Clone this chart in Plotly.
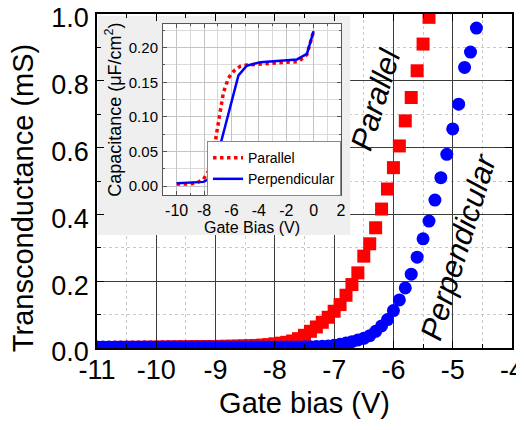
import plotly.graph_objects as go

# ---------------- main chart data ----------------
par_bias = [-11.0, -10.9, -10.8, -10.7, -10.6, -10.5, -10.4, -10.3, -10.2, -10.1,
            -10.0, -9.9, -9.8, -9.7, -9.6, -9.5, -9.4, -9.3, -9.2, -9.1,
            -9.0, -8.9, -8.8, -8.7, -8.6, -8.5, -8.4, -8.3, -8.2, -8.1,
            -8.0, -7.9, -7.8, -7.7, -7.6, -7.5, -7.4, -7.3, -7.2, -7.1,
            -7.0, -6.9, -6.8, -6.7, -6.6, -6.5, -6.4, -6.3, -6.2, -6.1,
            -6.0, -5.9, -5.8, -5.7, -5.6, -5.5, -5.4]
par_gm = [0.0015, 0.0015, 0.0016, 0.0017, 0.0018, 0.0019, 0.002, 0.0021, 0.0022, 0.0024,
          0.0026, 0.0028, 0.003, 0.0032, 0.0034, 0.0036, 0.0038, 0.004, 0.0042, 0.0044,
          0.0046, 0.0049, 0.0051, 0.0054, 0.0058, 0.0063, 0.0069, 0.0077, 0.0087, 0.0099,
          0.0125, 0.0145, 0.017, 0.021, 0.028, 0.038, 0.05, 0.063, 0.077, 0.092,
          0.11, 0.13, 0.158, 0.19, 0.225, 0.275, 0.312, 0.36, 0.416, 0.476,
          0.54, 0.605, 0.68, 0.75, 0.83, 0.91, 0.99]

perp_bias = [-11.0, -10.9, -10.8, -10.7, -10.6, -10.5, -10.4, -10.3, -10.2, -10.1,
             -10.0, -9.9, -9.8, -9.7, -9.6, -9.5, -9.4, -9.3, -9.2, -9.1,
             -9.0, -8.9, -8.8, -8.7, -8.6, -8.5, -8.4, -8.3, -8.2, -8.1,
             -8.0, -7.9, -7.8, -7.7, -7.6, -7.5, -7.4, -7.3, -7.2, -7.1,
             -7.0, -6.9, -6.8, -6.7, -6.6, -6.5, -6.4, -6.3, -6.2, -6.1,
             -6.0, -5.9, -5.8, -5.7, -5.6, -5.5, -5.4, -5.3, -5.2, -5.1,
             -5.0, -4.9, -4.8, -4.7, -4.6]
perp_gm = [0.003, 0.003, 0.003, 0.003, 0.003, 0.003, 0.003, 0.003, 0.003, 0.003,
           0.003, 0.003, 0.003, 0.003, 0.003, 0.003, 0.003, 0.003, 0.003, 0.003,
           0.003, 0.003, 0.003, 0.003, 0.003, 0.003, 0.003, 0.003, 0.003, 0.003,
           0.003, 0.003, 0.003, 0.003, 0.003, 0.0035, 0.004, 0.0045, 0.005, 0.006,
           0.008, 0.011, 0.015, 0.019, 0.024, 0.029, 0.037, 0.05, 0.066, 0.085,
           0.112, 0.144, 0.18, 0.221, 0.272, 0.327, 0.38, 0.443, 0.51, 0.58,
           0.656, 0.73, 0.84, 0.886, 0.958]

x_ticks = [-11, -10, -9, -8, -7, -6, -5, -4]
x_ticktext = ["-11", "-10", "-9", "-8", "-7", "-6", "-5", "-4"]
y_ticks = [0.0, 0.2, 0.4, 0.6, 0.8, 1.0]
y_ticktext = ["0.0", "0.2", "0.4", "0.6", "0.8", "1.0"]

# ---------------- inset data (C-V) ----------------
cv_par_bias = [-10, -9.5, -9, -8.5, -8.05, -7.61, -7.44, -7.2, -6.83, -6.59, -6.22,
               -5.98, -5.73, -5.37, -4.88, -3.41, -2.2, -1.1, -0.49, 0]
cv_par_cap = [0.003, 0.003, 0.003, 0.005, 0.0096, 0.024, 0.034, 0.0625, 0.106, 0.135, 0.156,
              0.163, 0.168, 0.173, 0.175, 0.177, 0.178, 0.18, 0.19, 0.224]
cv_perp_bias = [-10, -8.05, -7.44, -5.49, -4.88, -3.9, -1.22, -0.49, 0]
cv_perp_cap = [0.004, 0.006, 0.012, 0.160, 0.174, 0.179, 0.183, 0.191, 0.224]

inset_x_ticks = [-10, -8, -6, -4, -2, 0, 2]
inset_x_ticktext = ["-10", "-8", "-6", "-4", "-2", "0", "2"]
inset_y_ticks = [0.0, 0.05, 0.10, 0.15, 0.20]

FONT = "Liberation Sans, Arial, sans-serif"

fig = go.Figure()

fig.add_trace(go.Scatter(x=par_bias, y=par_gm, mode="markers",
                         marker=dict(symbol="square", size=13, color="#ff0000", line=dict(width=0)),
                         showlegend=False, xaxis="x", yaxis="y"))
fig.add_trace(go.Scatter(x=perp_bias, y=perp_gm, mode="markers",
                         marker=dict(symbol="circle", size=13, color="#0000ff", line=dict(width=0)),
                         showlegend=False, xaxis="x", yaxis="y"))

fig.add_trace(go.Scatter(x=cv_par_bias, y=cv_par_cap, mode="lines", name="Parallel",
                         line=dict(color="#ff0000", width=3.5, dash="dot"),
                         xaxis="x2", yaxis="y2"))
fig.add_trace(go.Scatter(x=cv_perp_bias, y=cv_perp_cap, mode="lines", name="Perpendicular",
                         line=dict(color="#0000ff", width=2.5),
                         xaxis="x2", yaxis="y2"))

fig.update_layout(
    width=516, height=422,
    margin=dict(l=89, r=12, t=6, b=82, autoexpand=False),
    paper_bgcolor="white", plot_bgcolor="white",
    font=dict(family=FONT, color="black"),
    xaxis=dict(
        range=[-11, -4], tickvals=x_ticks, ticktext=x_ticktext, automargin=False,
        ticklabeloverflow="allow",
        showgrid=True, gridcolor="#3c3c3c", gridwidth=1,
        zeroline=False, showline=True, linecolor="black", linewidth=1.5, mirror="ticks",
        ticks="inside", ticklen=7, tickcolor="black", tickwidth=1,
        tickfont=dict(size=27, color="black"), ticklabelstandoff=-3,
        minor=dict(dtick=0.5, ticks="inside", ticklen=4, tickcolor="black",
                   showgrid=True, gridcolor="#c8c8c8", griddash="dot", gridwidth=1),
        title=dict(text="Gate bias (V)", font=dict(size=29), standoff=9),
    ),
    yaxis=dict(
        range=[0, 1.0], tickvals=y_ticks, ticktext=y_ticktext, automargin=False,
        ticklabeloverflow="allow", ticklabelshift=4,
        showgrid=True, gridcolor="#3c3c3c", gridwidth=1,
        zeroline=False, showline=True, linecolor="black", linewidth=1.5, mirror="ticks",
        ticks="inside", ticklen=7, tickcolor="black", tickwidth=1,
        tickfont=dict(size=27, color="black"), ticklabelstandoff=1,
        minor=dict(dtick=0.1, ticks="inside", ticklen=4, tickcolor="black",
                   showgrid=True, gridcolor="#c8c8c8", griddash="dot", gridwidth=1),
    ),
    xaxis2=dict(
        domain=[0.159, 0.588], anchor="y2", range=[-11, 2],
        tickvals=inset_x_ticks, ticktext=inset_x_ticktext, automargin=False,
        showgrid=True, gridcolor="#c4c4c4", zeroline=False,
        showline=True, linecolor="#555555", linewidth=1, mirror="ticks",
        ticks="inside", ticklen=4, tickcolor="#555555",
        tickfont=dict(size=16, color="black"), ticklabelstandoff=1,
        minor=dict(dtick=1, ticks="inside", ticklen=2, tickcolor="#555555",
                   showgrid=True, gridcolor="#dadada"),
        title=dict(text="Gate Bias (V)", font=dict(size=16), standoff=2),
    ),
    yaxis2=dict(
        domain=[0.458, 0.9695], anchor="x2", range=[-0.013, 0.234],
        tickvals=inset_y_ticks, tickformat=".2f", automargin=False,
        showgrid=True, gridcolor="#c4c4c4", zeroline=False,
        showline=True, linecolor="#555555", linewidth=1, mirror="ticks",
        ticks="inside", ticklen=4, tickcolor="#555555",
        tickfont=dict(size=15, color="black"), ticklabelstandoff=1,
        minor=dict(dtick=0.025, ticks="inside", ticklen=2, tickcolor="#555555",
                   showgrid=True, gridcolor="#dadada"),
        title=dict(text="Capacitance (\u03bcF/cm<sup>2</sup>)", font=dict(size=18), standoff=2),
    ),
    legend=dict(x=0.588, xanchor="right", y=0.455, yanchor="bottom",
                bgcolor="white", bordercolor="#888888", borderwidth=1,
                font=dict(size=14, color="black"), tracegroupgap=0,
                itemwidth=30),
    shapes=[dict(type="rect", xref="x", yref="y",
                 x0=-10.985, x1=-6.73, y0=0.338, y1=0.995, layer="between",
                 fillcolor="#efefef", line=dict(width=0))],
    annotations=[
        dict(text="Transconductance (mS)", xref="paper", yref="paper", x=-0.178, y=0.449,
             xanchor="center", yanchor="middle", showarrow=False, textangle=-90,
             font=dict(size=29, color="black")),
        dict(text="<i>Parallel</i>", xref="paper", yref="paper", x=0.672, y=0.743,
             xanchor="center", yanchor="middle",
             showarrow=False, textangle=-73, font=dict(size=31, color="black")),
        dict(text="<i>Perpendicular</i>", xref="paper", yref="paper", x=0.870, y=0.302,
             xanchor="center", yanchor="middle",
             showarrow=False, textangle=-73, font=dict(size=31, color="black")),
    ],
)

fig.write_html("out.html")
